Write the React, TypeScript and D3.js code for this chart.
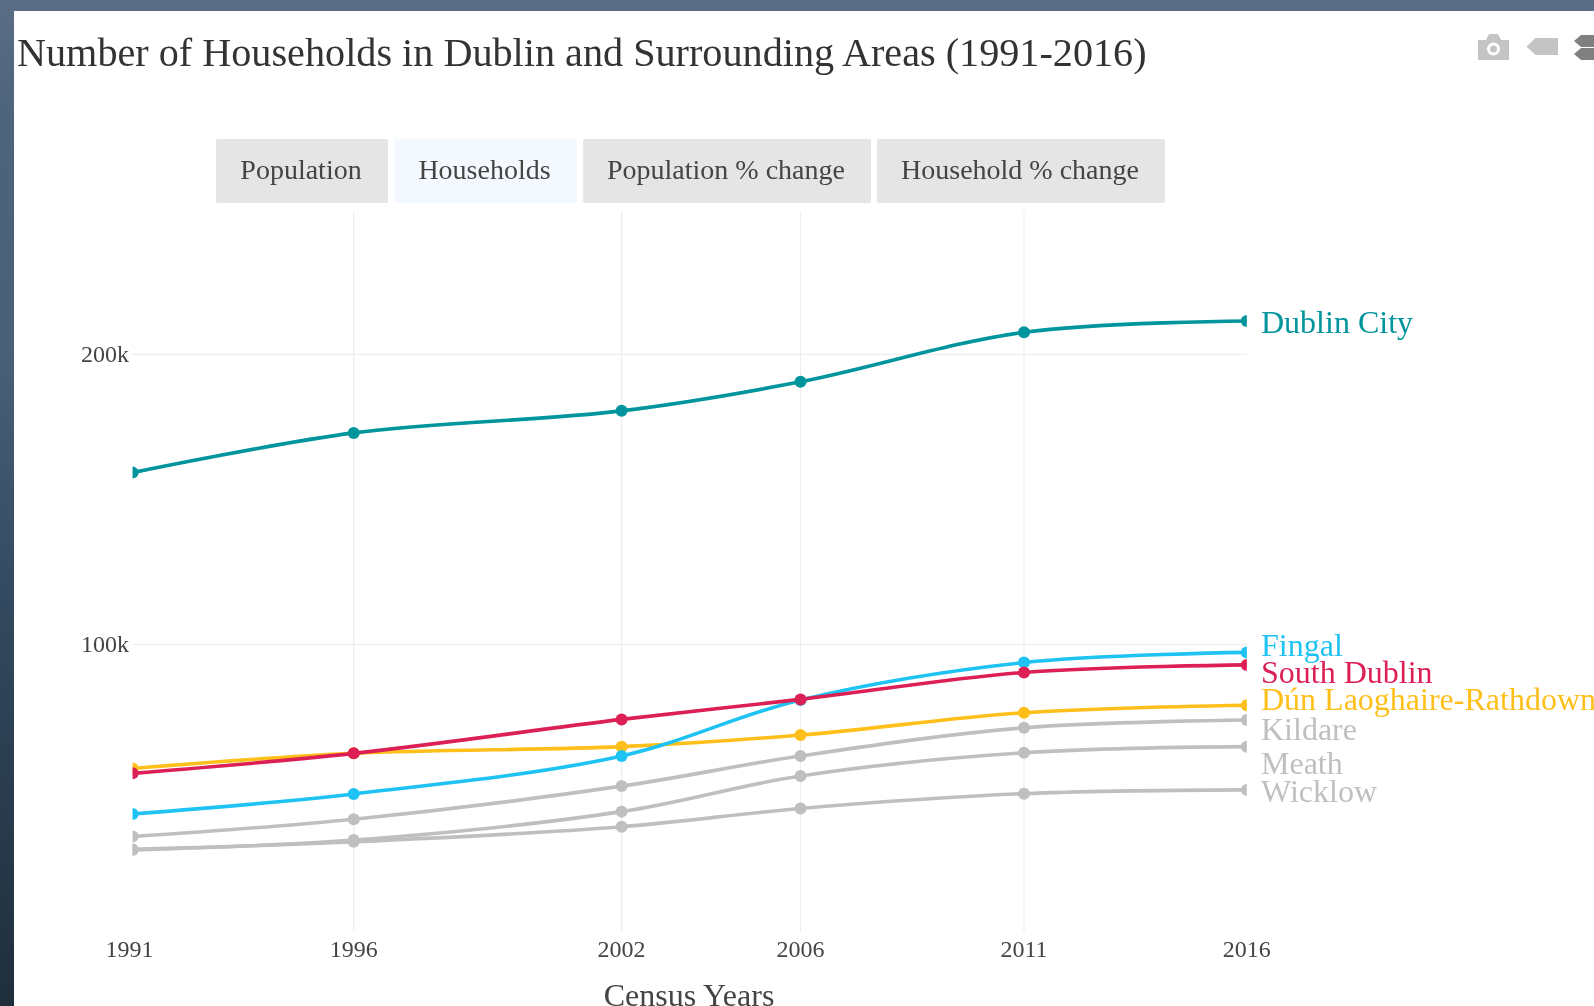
import React from "react";
import * as d3 from "d3";

const years = [1991, 1996, 2002, 2006, 2011, 2016];
const gridYears = [1996, 2002, 2006, 2011];
const dublinCity = [159.2, 172.9, 180.5, 190.5, 207.6, 211.5];
const fingal = [41.5, 48.4, 61.5, 80.8, 93.7, 97.2];
const southDublin = [55.5, 62.4, 74.1, 81.0, 90.3, 92.9];
const dunLaoghaire = [57.2, 62.4, 64.7, 68.7, 76.4, 79.0];
const kildare = [33.7, 39.7, 51.1, 61.5, 71.2, 73.9];
const meath = [29.1, 32.5, 42.3, 54.6, 62.6, 64.7];
const wicklow = [29.3, 31.9, 37.1, 43.4, 48.5, 49.8];
const yTicks = [100, 200];
const buttonLabels = ["Population", "Households", "Population % change", "Household % change"];

const GREY = "#bfbfbf";
const series = [
  { name: "Wicklow", values: wicklow, color: GREY, labelY: 802 },
  { name: "Meath", values: meath, color: GREY, labelY: 773.5 },
  { name: "Kildare", values: kildare, color: GREY, labelY: 740 },
  { name: "Dún Laoghaire-Rathdown", values: dunLaoghaire, color: "#ffbf1a", labelY: 710 },
  { name: "Fingal", values: fingal, color: "#1ec3f3", labelY: 656 },
  { name: "South Dublin", values: southDublin, color: "#dc1f55", labelY: 683 },
  { name: "Dublin City", values: dublinCity, color: "#00959c", labelY: 333 },
];

const FONT = "'Liberation Serif', 'Times New Roman', serif";
const xPositions = [132.6, 353.7, 621.6, 800.5, 1024, 1246.8];
const x = d3.scaleLinear().domain(years).range(xPositions);
const y = d3.scaleLinear().domain([0, 200]).range([934.3, 354.3]);
const line = d3
  .line<number>()
  .x((_, i) => x(years[i]))
  .y((d) => y(d))
  .curve(d3.curveCatmullRom.alpha(0.5));

const buttonBoxes = [
  { x0: 216, x1: 388, fill: "#e5e5e5" },
  { x0: 394, x1: 577, fill: "#f4f9ff" },
  { x0: 583, x1: 871, fill: "#e5e5e5" },
  { x0: 877, x1: 1165, fill: "#e5e5e5" },
];

export default function App() {
  React.useEffect(() => {
    document.body.style.margin = "0";
    document.body.style.overflow = "hidden";
  }, []);
  return (
    <svg width={1594} height={1006} style={{ display: "block", filter: "blur(0.5px)" }} fontFamily={FONT}>
      <defs>
        <linearGradient id="bg" x1="0" y1="0" x2="0" y2="1">
          <stop offset="0" stopColor="#5a6d84" />
          <stop offset="0.12" stopColor="#4d647c" />
          <stop offset="0.35" stopColor="#4a6077" />
          <stop offset="0.6" stopColor="#33495f" />
          <stop offset="1" stopColor="#1f2e3b" />
        </linearGradient>
        <clipPath id="plot">
          <rect x={132.6} y={211} width={1114.2} height={722} />
        </clipPath>
      </defs>
      <rect width={1594} height={1006} fill="url(#bg)" />
      <rect width={1594} height={11} fill="#5a6d84" />
      <rect x={14} y={11} width={1580} height={995} fill="#fff" />

      <text x={17} y={66} fontSize={40.2} fill="#333">
        Number of Households in Dublin and Surrounding Areas (1991-2016)
      </text>

      {/* modebar */}
      <g fill="#c4c4c4">
        <path d="M1478 40h8l3-6h9l3 6h8v20h-31z" />
        <circle cx={1493.5} cy={49} r={6.5} fill="#fff" />
        <circle cx={1493.5} cy={49} r={3.5} />
        <path d="M1526.5 46.5l9-8.5h22.5v17h-22.5z" />
      </g>
      <g fill="#808080">
        <path d="M1574 41l7-6h13v12h-13z" />
        <path d="M1574 54l7-6h13v12h-13z" />
      </g>

      {/* buttons */}
      {buttonLabels.map((b, i) => (
        <g key={b}>
          <rect
            x={buttonBoxes[i].x0}
            y={139}
            width={buttonBoxes[i].x1 - buttonBoxes[i].x0}
            height={64}
            rx={2}
            fill={buttonBoxes[i].fill}
          />
          <text
            x={(buttonBoxes[i].x0 + buttonBoxes[i].x1) / 2 - 1}
            y={179}
            textAnchor="middle"
            fontSize={28}
            fill="#444"
          >
            {b}
          </text>
        </g>
      ))}

      {/* grid */}
      {gridYears.map((yr) => (
        <line key={yr} x1={x(yr)} x2={x(yr)} y1={211} y2={932} stroke="#eeeeee" strokeWidth={1.2} />
      ))}
      {yTicks.map((t) => (
        <g key={t}>
          <line x1={132.6} x2={1246.8} y1={y(t)} y2={y(t)} stroke="#eeeeee" strokeWidth={1.2} />
          <text x={129} y={y(t) + 8} textAnchor="end" fontSize={24} fill="#444">
            {t}k
          </text>
        </g>
      ))}

      {/* traces */}
      <g clipPath="url(#plot)">
        {series.map((s) => (
          <g key={s.name}>
            <path d={line(s.values) ?? ""} fill="none" stroke={s.color} strokeWidth={3.6} />
            {s.values.map((v, i) => (
              <circle key={i} cx={x(years[i])} cy={y(v)} r={6} fill={s.color} />
            ))}
          </g>
        ))}
      </g>
      {series.map((s) => (
        <text key={s.name} x={1261} y={s.labelY} fontSize={32} fill={s.color}>
          {s.name}
        </text>
      ))}

      {/* x axis */}
      {years.map((yr, i) => (
        <text key={yr} x={x(yr) - (i === 0 ? 3 : 0)} y={957} textAnchor="middle" fontSize={24} fill="#444">
          {yr}
        </text>
      ))}
      <text x={689} y={1006} textAnchor="middle" fontSize={32} fill="#444">
        Census Years
      </text>
    </svg>
  );
}
